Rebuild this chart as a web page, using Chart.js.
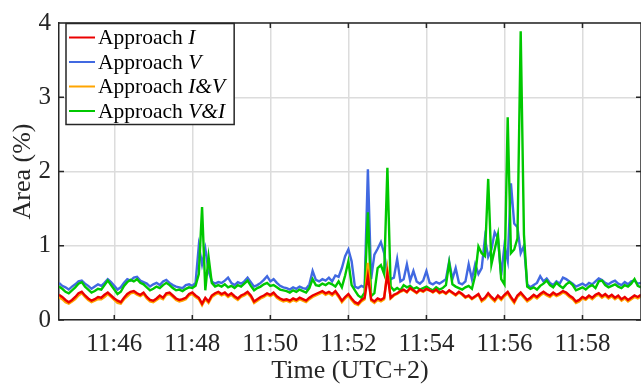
<!DOCTYPE html>
<html>
<head>
<meta charset="utf-8">
<script src="https://cdn.jsdelivr.net/npm/chart.js@4.4.1/dist/chart.umd.min.js"></script>
<style>
  html, body { margin: 0; padding: 0; background: #fff; }
  #wrap { width: 641px; height: 388px; }
</style>
</head>
<body>
<div id="wrap"><canvas id="areaChart"></canvas></div>
<script>
// sampling: one value every 5 s starting at 11:44:35
const startMinute = 44 + 35 / 60;
const endMinute = 59.5;
const stepSeconds = 5;

const tickMinutes = [46, 48, 50, 52, 54, 56, 58];
const yTicks = [0, 1, 2, 3, 4];
const legendLabels = ["I", "V", "I&V", "V&I"];

// Area (%) per approach
const approachI = [
  0.34,0.31,0.27,0.24,0.27,0.31,0.36,0.38,0.33,0.29,
  0.26,0.28,0.31,0.30,0.34,0.37,0.33,0.29,0.26,0.24,
  0.30,0.35,0.38,0.39,0.36,0.34,0.37,0.31,0.27,0.26,
  0.29,0.33,0.30,0.36,0.37,0.33,0.29,0.27,0.28,0.30,
  0.35,0.37,0.33,0.30,0.22,0.30,0.25,0.33,0.36,0.38,
  0.35,0.37,0.33,0.36,0.32,0.29,0.33,0.35,0.38,0.33,
  0.25,0.28,0.31,0.33,0.36,0.34,0.37,0.32,0.29,0.27,
  0.28,0.26,0.29,0.27,0.30,0.28,0.26,0.30,0.33,0.35,
  0.37,0.39,0.36,0.38,0.35,0.39,0.33,0.26,0.31,0.35,
  0.29,0.24,0.22,0.27,0.30,0.59,0.28,0.25,0.29,0.27,
  0.30,0.62,0.30,0.34,0.36,0.39,0.41,0.38,0.43,0.40,
  0.37,0.41,0.39,0.42,0.40,0.38,0.41,0.37,0.39,0.36,
  0.40,0.37,0.34,0.38,0.35,0.31,0.33,0.29,0.32,0.35,
  0.27,0.30,0.36,0.31,0.27,0.33,0.29,0.34,0.38,0.31,
  0.25,0.33,0.37,0.32,0.27,0.30,0.34,0.31,0.35,0.38,
  0.35,0.33,0.37,0.34,0.36,0.39,0.37,0.33,0.30,0.25,
  0.27,0.31,0.29,0.33,0.30,0.34,0.36,0.32,0.35,0.31,
  0.34,0.30,0.33,0.28,0.31,0.27,0.30,0.33,0.31,0.34
];
const approachV = [
  0.50,0.46,0.44,0.41,0.45,0.48,0.52,0.53,0.49,0.46,
  0.42,0.45,0.48,0.46,0.50,0.55,0.51,0.46,0.41,0.44,
  0.50,0.55,0.53,0.57,0.58,0.53,0.51,0.49,0.45,0.48,
  0.50,0.47,0.52,0.54,0.50,0.47,0.45,0.44,0.43,0.47,
  0.48,0.46,0.50,1.00,0.75,0.96,0.66,0.52,0.49,0.51,
  0.50,0.53,0.57,0.50,0.47,0.51,0.49,0.52,0.57,0.51,
  0.45,0.47,0.50,0.54,0.59,0.52,0.55,0.50,0.46,0.44,
  0.43,0.41,0.44,0.42,0.45,0.43,0.42,0.48,0.66,0.54,
  0.52,0.55,0.53,0.57,0.52,0.60,0.58,0.70,0.86,0.95,
  0.79,0.45,0.43,0.46,0.44,2.03,0.55,0.88,0.96,1.05,
  0.90,0.60,0.55,0.57,0.82,0.52,0.55,0.75,0.53,0.66,
  0.52,0.49,0.53,0.66,0.50,0.48,0.51,0.49,0.52,0.55,
  0.79,0.55,0.70,0.50,0.48,0.52,0.75,0.55,0.75,0.62,
  0.70,1.10,0.85,0.95,1.18,1.10,0.60,1.00,0.80,1.84,
  1.30,1.25,0.90,1.00,0.48,0.44,0.47,0.50,0.59,0.52,
  0.56,0.50,0.47,0.52,0.49,0.57,0.55,0.52,0.49,0.45,
  0.47,0.49,0.46,0.50,0.48,0.52,0.56,0.54,0.50,0.48,
  0.51,0.53,0.49,0.47,0.51,0.48,0.52,0.53,0.49,0.50
];
const approachIV = [
  0.31,0.28,0.24,0.22,0.25,0.28,0.33,0.36,0.31,0.27,
  0.24,0.26,0.28,0.28,0.31,0.35,0.31,0.27,0.23,0.22,
  0.28,0.32,0.36,0.37,0.34,0.32,0.35,0.29,0.25,0.24,
  0.27,0.30,0.28,0.34,0.35,0.31,0.27,0.25,0.26,0.28,
  0.33,0.35,0.31,0.28,0.20,0.28,0.23,0.31,0.34,0.36,
  0.33,0.35,0.31,0.34,0.30,0.27,0.31,0.33,0.36,0.31,
  0.23,0.26,0.29,0.31,0.34,0.32,0.35,0.30,0.27,0.25,
  0.26,0.24,0.27,0.25,0.28,0.26,0.24,0.28,0.31,0.33,
  0.35,0.37,0.34,0.36,0.33,0.37,0.31,0.24,0.29,0.33,
  0.27,0.22,0.20,0.25,0.28,0.77,0.26,0.23,0.27,0.25,
  0.28,0.68,0.29,0.33,0.35,0.38,0.40,0.37,0.42,0.39,
  0.36,0.40,0.38,0.41,0.40,0.37,0.40,0.36,0.38,0.35,
  0.39,0.36,0.33,0.37,0.34,0.30,0.32,0.28,0.31,0.34,
  0.25,0.28,0.34,0.29,0.25,0.31,0.27,0.32,0.36,0.29,
  0.23,0.31,0.35,0.30,0.25,0.28,0.32,0.29,0.33,0.36,
  0.33,0.31,0.35,0.32,0.34,0.37,0.35,0.31,0.28,0.23,
  0.25,0.29,0.27,0.31,0.28,0.32,0.34,0.30,0.33,0.29,
  0.32,0.28,0.31,0.26,0.29,0.25,0.28,0.31,0.29,0.32
];
const approachVI = [
  0.45,0.42,0.38,0.36,0.40,0.44,0.49,0.51,0.45,0.41,
  0.37,0.39,0.42,0.41,0.47,0.53,0.47,0.41,0.35,0.38,
  0.46,0.51,0.54,0.52,0.55,0.50,0.48,0.44,0.40,0.42,
  0.45,0.43,0.47,0.50,0.47,0.43,0.40,0.41,0.39,0.42,
  0.44,0.43,0.46,0.62,1.52,0.40,0.85,0.50,0.45,0.47,
  0.45,0.48,0.44,0.46,0.43,0.47,0.45,0.49,0.53,0.46,
  0.40,0.43,0.45,0.48,0.50,0.46,0.47,0.44,0.41,0.40,
  0.39,0.37,0.40,0.38,0.41,0.39,0.37,0.43,0.55,0.47,
  0.46,0.49,0.47,0.50,0.48,0.45,0.52,0.44,0.60,0.79,
  0.47,0.40,0.33,0.30,0.37,1.45,0.32,0.36,0.70,0.74,
  0.62,2.05,0.45,0.40,0.43,0.40,0.47,0.44,0.46,0.42,
  0.44,0.41,0.43,0.45,0.42,0.40,0.44,0.41,0.43,0.47,
  0.77,0.48,0.45,0.43,0.41,0.44,0.46,0.42,0.60,0.99,
  0.90,0.86,1.90,0.75,0.95,1.15,0.55,0.48,2.73,0.90,
  0.95,1.10,3.89,1.15,0.45,0.42,0.44,0.41,0.46,0.49,
  0.53,0.47,0.44,0.50,0.46,0.43,0.48,0.51,0.47,0.40,
  0.42,0.44,0.41,0.45,0.47,0.43,0.52,0.53,0.47,0.44,
  0.46,0.48,0.45,0.43,0.47,0.45,0.49,0.55,0.46,0.44
];

const serif = '"Liberation Serif", "Times New Roman", serif';
const ink = "#262626";
const gridColor = "#dcdcdc";
const colors = ["rgb(235,0,0)", "rgb(65,105,225)", "rgb(255,165,0)", "rgb(0,200,0)"];

const toPoints = (values) => values.map((v, i) => ({ x: startMinute + i * stepSeconds / 60, y: v }));

// box outline, inward ticks and the legend box, drawn on top of the plot
const framePlugin = {
  id: "frame",
  afterDraw(chart) {
    const ctx = chart.ctx;
    const a = chart.chartArea;
    const xs = chart.scales.x, ys = chart.scales.y;
    ctx.save();
    ctx.strokeStyle = ink;
    ctx.lineWidth = 1.5;
    ctx.beginPath();
    ctx.moveTo(a.left, a.top); ctx.lineTo(a.right, a.top);
    ctx.moveTo(a.right, a.top); ctx.lineTo(a.right, a.bottom);
    tickMinutes.forEach(m => {
      const px = xs.getPixelForValue(m);
      ctx.moveTo(px, a.bottom); ctx.lineTo(px, a.bottom - 5);
      ctx.moveTo(px, a.top); ctx.lineTo(px, a.top + 5);
    });
    yTicks.forEach(v => {
      const py = ys.getPixelForValue(v);
      ctx.moveTo(a.left, py); ctx.lineTo(a.left + 5, py);
      ctx.moveTo(a.right, py); ctx.lineTo(a.right - 5, py);
    });
    ctx.stroke();

    // legend
    const bx = 66, by = 23.5, rowH = 24.5;
    const textX = 98;
    const size = 21.5;
    ctx.font = size + "px " + serif;
    const prefix = "Approach ";
    const prefixW = ctx.measureText(prefix).width;
    ctx.font = "italic " + size + "px " + serif;
    const maxW = Math.max(...legendLabels.map(l => ctx.measureText(l).width));
    const bw = textX + prefixW + maxW + 9 - bx;
    const bh = rowH * legendLabels.length + 3;
    ctx.fillStyle = "#fff";
    ctx.fillRect(bx, by, bw, bh);
    ctx.strokeStyle = ink;
    ctx.lineWidth = 1.5;
    ctx.strokeRect(bx, by, bw, bh);
    legendLabels.forEach((l, i) => {
      const cy = by + 14 + i * rowH;
      ctx.strokeStyle = colors[i];
      ctx.lineWidth = 2;
      ctx.beginPath();
      ctx.moveTo(69, cy); ctx.lineTo(95, cy);
      ctx.stroke();
      ctx.fillStyle = "#000";
      ctx.textBaseline = "middle";
      ctx.textAlign = "left";
      ctx.font = size + "px " + serif;
      ctx.fillText(prefix, textX, cy + 1);
      ctx.font = "italic " + size + "px " + serif;
      ctx.fillText(l, textX + prefixW, cy + 1);
    });
    ctx.restore();
  }
};

const series = [approachI, approachV, approachIV, approachVI];
// red on top, then orange, green, blue underneath
const drawOrder = [0, 3, 1, 2];

new Chart(document.getElementById("areaChart"), {
  type: "line",
  data: {
    datasets: series.map((s, i) => ({
      label: "Approach " + legendLabels[i],
      data: toPoints(s),
      borderColor: colors[i],
      backgroundColor: colors[i],
      borderWidth: 2.4,
      pointRadius: 0,
      tension: 0,
      fill: false,
      order: drawOrder[i]
    }))
  },
  options: {
    responsive: true,
    maintainAspectRatio: false,
    animation: false,
    layout: { padding: { top: 16, right: 0, left: 0, bottom: 0 } },
    plugins: { legend: { display: false }, tooltip: { enabled: false } },
    scales: {
      x: {
        type: "linear",
        min: startMinute,
        max: endMinute,
        afterBuildTicks: s => { s.ticks = tickMinutes.map(v => ({ value: v })); },
        afterFit: s => { s.height = 68; },
        ticks: {
          callback: v => "11:" + v,
          font: { family: serif, size: 25 },
          color: ink,
          maxRotation: 0,
          autoSkip: false,
          padding: 9
        },
        grid: { color: gridColor, lineWidth: 1.5, drawTicks: false },
        border: { color: ink, width: 1.5 },
        title: {
          display: true,
          text: "Time (UTC+2)",
          font: { family: serif, size: 26 },
          color: ink,
          padding: { top: 0, bottom: 1 }
        }
      },
      y: {
        min: 0,
        max: 4,
        afterBuildTicks: s => { s.ticks = yTicks.map(v => ({ value: v })); },
        afterFit: s => { s.width = 59; },
        ticks: {
          font: { family: serif, size: 25 },
          color: ink,
          padding: 8
        },
        grid: { color: gridColor, lineWidth: 1.5, drawTicks: false },
        border: { color: ink, width: 1.5 },
        title: {
          display: true,
          text: "Area (%)",
          font: { family: serif, size: 26 },
          color: ink,
          padding: { top: 8, bottom: 0 }
        }
      }
    }
  },
  plugins: [framePlugin]
});
</script>
</body>
</html>
